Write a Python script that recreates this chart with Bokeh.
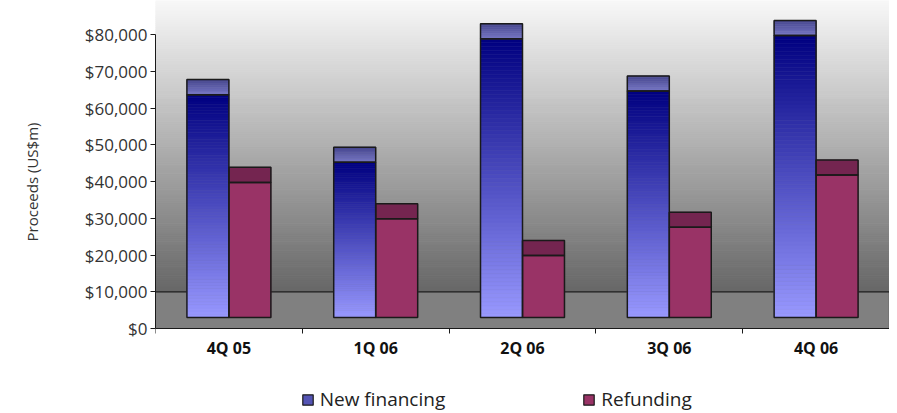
import numpy as np
from bokeh.plotting import figure
from bokeh.layouts import column
from bokeh.models import Range1d, FixedTicker, NumeralTickFormatter, Legend, LegendItem
from bokeh.embed import file_html
from bokeh.resources import INLINE

# ---- data ----
categories = ["4Q 05", "1Q 06", "2Q 06", "3Q 06", "4Q 06"]
new_financing = [67800, 49400, 83000, 68800, 83900]
refunding = [43900, 34000, 24000, 31700, 45900]
y_ticks = [0, 10000, 20000, 30000, 40000, 50000, 60000, 70000, 80000]
series_names = ["New financing", "Refunding"]

# ---- styling constants ----
BAR_BASE = 3000      # front-face bottom of the 3D columns
CAP = 4100           # apparent depth of the top face
FLOOR = 10000        # back edge of the 3D floor
Y_MIN = -9534
Y_MAX = 89350
BAR_W = 0.286
FONT = "Open Sans"


def hex2rgb(h):
    h = h.lstrip("#")
    return tuple(int(h[i:i + 2], 16) for i in (0, 2, 4))


def lerp(c1, c2, t):
    a, b = hex2rgb(c1), hex2rgb(c2)
    return "#%02x%02x%02x" % tuple(int(round(x + (y - x) * t)) for x, y in zip(a, b))


p = figure(width=889, height=370, x_range=Range1d(0, 5), y_range=Range1d(Y_MIN, Y_MAX),
           output_backend="svg", toolbar_location=None,
           min_border_left=155, min_border_right=0, min_border_top=0, min_border_bottom=7)
p.outline_line_color = None
p.xgrid.visible = False
p.ygrid.visible = False
p.background_fill_color = "white"
p.border_fill_color = "white"

# ---- wall gradient ----
nw = 140
edges = np.linspace(FLOOR, Y_MAX, nw + 1)
wl, wr, wb, wt, wc = [], [], [], [], []
for k in range(nw):
    t = (k + 0.5) / nw
    wl.append(0); wr.append(5); wb.append(edges[k]); wt.append(edges[k + 1])
    wc.append(lerp("#666666", "#f8f8f8", t))
p.quad(left=wl, right=wr, bottom=wb, top=wt, fill_color=wc, line_color=wc, line_width=1)

# ---- floor ----
p.quad(left=[0], right=[5], bottom=[0], top=[FLOOR], fill_color="#808080", line_color=None)
p.segment(x0=[0, 5], y0=[FLOOR, 0], x1=[5, 5], y1=[FLOOR, FLOOR], line_color="#1a1a1a", line_width=1.2)

# ---- bars as gradient slices ----
sl, sr, sb, st, sc = [], [], [], [], []
ol, orr, ob, ot = [], [], [], []


def add_slices(left, right, bottom, top, c_top, c_bot, n):
    e = np.linspace(bottom, top, n + 1)
    for k in range(n):
        t = (k + 0.5) / n  # 0 bottom -> 1 top
        sl.append(left); sr.append(right); sb.append(e[k]); st.append(e[k + 1])
        sc.append(lerp(c_bot, c_top, t))


for i, (nf, rf) in enumerate(zip(new_financing, refunding)):
    c = i + 0.5
    add_slices(c - BAR_W, c, BAR_BASE, nf - CAP, "#000080", "#9999ff", 70)
    add_slices(c - BAR_W, c, nf - CAP, nf, "#46468e", "#7878c6", 8)
    add_slices(c, c + BAR_W, BAR_BASE, rf - CAP, "#993366", "#993366", 1)
    add_slices(c, c + BAR_W, rf - CAP, rf, "#742550", "#742550", 1)
    for (l, r, v) in ((c - BAR_W, c, nf), (c, c + BAR_W, rf)):
        ol += [l, l]; orr += [r, r]; ob += [BAR_BASE, v - CAP]; ot += [v - CAP, v]

p.quad(left=sl, right=sr, bottom=sb, top=st, fill_color=sc, line_color=sc, line_width=0.6)
p.quad(left=ol, right=orr, bottom=ob, top=ot, fill_color=None, line_color="#1a1a1a", line_width=1.5)

# ---- axes ----
ya = p.yaxis[0]
ya.ticker = FixedTicker(ticks=y_ticks)
ya.formatter = NumeralTickFormatter(format="$0,0")
ya.bounds = (0, 80000)
ya.major_tick_out = 5
ya.major_tick_in = 0
ya.minor_tick_line_color = None
ya.axis_line_color = "#1a1a1a"
ya.major_tick_line_color = "#1a1a1a"
ya.major_label_standoff = 3
ya.major_label_text_font = FONT
ya.major_label_text_font_size = "17px"
ya.major_label_text_color = "#333333"
ya.axis_label = "Proceeds (US$m)"
ya.axis_label_text_font = FONT
ya.axis_label_text_font_size = "15px"
ya.axis_label_text_font_style = "normal"
ya.axis_label_text_color = "#333333"
ya.axis_label_standoff = 40

xa = p.xaxis[0]
xa.fixed_location = 0
centers = [i + 0.5 for i in range(len(categories))]
xa.ticker = FixedTicker(ticks=centers, minor_ticks=list(range(len(categories) + 1)))
xa.major_label_overrides = {c: lab for c, lab in zip(centers, categories)}
xa.major_tick_out = 0
xa.major_tick_in = 0
xa.minor_tick_out = 5
xa.minor_tick_in = 0
xa.minor_tick_line_color = "#1a1a1a"
xa.axis_line_color = "#1a1a1a"
xa.major_label_standoff = 3
xa.major_label_text_font = FONT
xa.major_label_text_font_size = "16px"
xa.major_label_text_font_style = "bold"
xa.major_label_text_color = "#111111"

# ---- legend in a strip below ----
p2 = figure(width=889, height=43, output_backend="svg", toolbar_location=None,
            x_range=Range1d(0, 1), y_range=Range1d(0, 1),
            x_axis_location=None, y_axis_location=None,
            min_border_left=0, min_border_right=0, min_border_top=0, min_border_bottom=0)
p2.outline_line_color = None
p2.xgrid.visible = False
p2.ygrid.visible = False
nan = [float("nan")]
r_new = p2.quad(left=nan, right=nan, bottom=nan, top=nan, fill_color="#5454b4", line_color="#1a1a1a", line_width=1.2)
r_ref = p2.quad(left=nan, right=nan, bottom=nan, top=nan, fill_color="#993366", line_color="#1a1a1a", line_width=1.2)
legend = Legend(items=[LegendItem(label=series_names[0], renderers=[r_new]),
                       LegendItem(label=series_names[1], renderers=[r_ref])],
                orientation="horizontal", location=(145.7, 1), padding=0, margin=0,
                spacing=137, glyph_width=13, glyph_height=13, label_standoff=6,
                border_line_color=None, background_fill_alpha=0,
                label_text_font=FONT, label_text_font_size="19px", label_text_color="#222222")
p2.add_layout(legend, "center")

layout = column(p, p2, spacing=0)
open("out.html", "w").write(file_html(layout, INLINE))
